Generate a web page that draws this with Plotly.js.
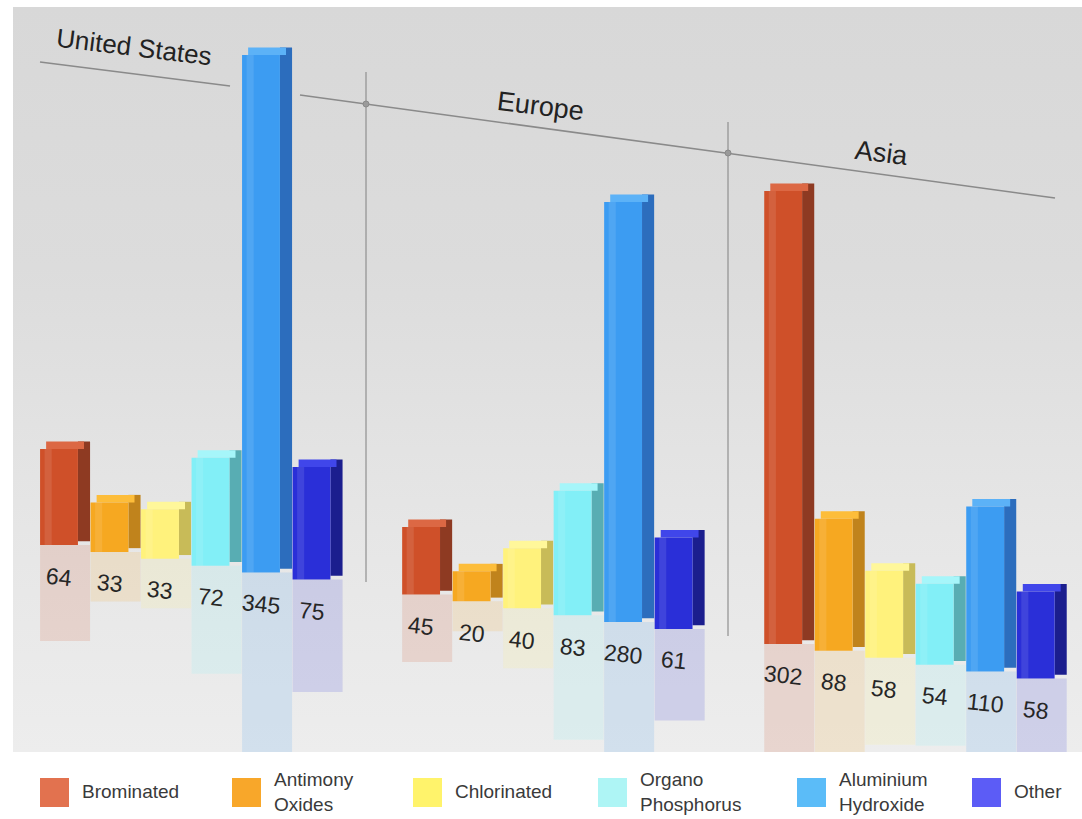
<!DOCTYPE html>
<html>
<head>
<meta charset="utf-8">
<script src="https://cdn.plot.ly/plotly-3.0.1.min.js"></script>
<style>
  html, body { margin: 0; padding: 0; background: #ffffff; }
  #chart {
    width: 1082px; height: 819px;
    background:
      linear-gradient(180deg, #d8d8d8 0%, #dcdcdc 35%, #e6e6e6 70%, #ededed 100%) 13px 7px / 1069px 745px no-repeat,
      #ffffff;
  }
</style>
</head>
<body>
<div id="chart"></div>
<script>
// ---------- data ----------
const regions = ['United States', 'Europe', 'Asia'];
const categories = ['Brominated', 'Antimony Oxides', 'Chlorinated', 'Organo Phosphorus', 'Aluminium Hydroxide', 'Other'];
const legendLabels = ['Brominated', 'Antimony<br>Oxides', 'Chlorinated', 'Organo<br>Phosphorus', 'Aluminium<br>Hydroxide', 'Other'];
const valuesUS = [64, 33, 33, 72, 345, 75];
const valuesEurope = [45, 20, 40, 83, 280, 61];
const valuesAsia = [302, 88, 58, 54, 110, 58];
const seriesByRegion = [valuesUS, valuesEurope, valuesAsia];

// ---------- styles ----------
const frontColors = ['#cf5029', '#f6a821', '#fff27c', '#82eff7', '#3c9cf2', '#2a2fd8'];
const sideColors  = ['#8e3a22', '#c0831c', '#c8bb58', '#58adb3', '#2c6dbd', '#1b1e8e'];
const topColors   = ['#dc6844', '#fdbd3a', '#fff79a', '#a6f6fa', '#5cb2f7', '#4046ea'];
const legendColors = ['#e2724f', '#f8a72a', '#fff36b', '#aef5f5', '#5bbcf8', '#5c5cf6'];

const GROUP_STEP = 7.17;   // spacing of region groups, in bar slots
const SLOPE = 4.6;         // perspective drop of the floor per bar slot
const DEPTH = 5;           // visual depth of the 3D top face
const FRONT_W = 0.75, SIDE_W = 0.24;

const reflTraces = [], sideTraces = [], topTraces = [], frontTraces = [], shineTraces = [];
const annotations = [];

categories.forEach((cat, c) => {
  const xs = regions.map((r, g) => g * GROUP_STEP + c);
  const vals = seriesByRegion.map(v => v[c]);
  const bases = xs.map(x => -SLOPE * x);

  reflTraces.push({
    type: 'bar', name: cat + ' reflection', showlegend: false, hoverinfo: 'skip',
    x: xs.map(x => x + SIDE_W / 2), y: vals.map(v => -v), base: bases,
    width: FRONT_W + SIDE_W, marker: { color: frontColors[c], line: { width: 0 } }, opacity: 0.15
  });
  sideTraces.push({
    type: 'bar', name: cat + ' side', showlegend: false, hoverinfo: 'skip',
    x: xs.map(x => x + FRONT_W / 2 + SIDE_W / 2), y: vals.map(v => v + DEPTH / 2), base: bases.map(b => b + DEPTH / 2),
    width: SIDE_W, marker: { color: sideColors[c], line: { width: 0 } }
  });
  topTraces.push({
    type: 'bar', name: cat + ' top', showlegend: false, hoverinfo: 'skip',
    x: xs.map(x => x + SIDE_W / 2), y: vals.map(() => DEPTH), base: bases.map((b, i) => b + vals[i]),
    width: FRONT_W, marker: { color: topColors[c], line: { width: 0 } }
  });
  frontTraces.push({
    type: 'bar', name: cat, showlegend: false,
    x: xs, y: vals, base: bases,
    width: FRONT_W, marker: { color: frontColors[c], line: { width: 0 } },
    hovertemplate: cat + ': %{y}<extra></extra>'
  });
  shineTraces.push({
    type: 'bar', name: cat + ' shine', showlegend: false, hoverinfo: 'skip',
    x: xs.map(x => x - FRONT_W / 2 + 0.16), y: vals, base: bases,
    width: 0.14, marker: { color: '#ffffff', line: { width: 0 } }, opacity: 0.1
  });

  xs.forEach((x, i) => {
    annotations.push({
      x: x, y: bases[i] - 21, xref: 'x', yref: 'y', text: String(vals[i]),
      xanchor: 'center', yanchor: 'middle',
      showarrow: false, textangle: 6,
      font: { family: 'Liberation Sans, Arial, sans-serif', size: 23, color: '#262626' }
    });
  });
});

// pixel helpers for decorations (plot area: x 13..1082, y 7..752)
const PX = px => (px - 13) / 1069;
const PY = py => (752 - py) / 745;

const lineStyle = { color: '#8a8a8a', width: 1.5 };
const shapes = [
  { type: 'line', xref: 'paper', yref: 'paper', x0: PX(40), y0: PY(62), x1: PX(230), y1: PY(86), line: lineStyle },
  { type: 'line', xref: 'paper', yref: 'paper', x0: PX(300), y0: PY(95), x1: PX(1055), y1: PY(198), line: lineStyle },
  { type: 'line', xref: 'paper', yref: 'paper', x0: PX(366), y0: PY(72), x1: PX(366), y1: PY(582), line: { color: '#8f8f8f', width: 1.2 } },
  { type: 'line', xref: 'paper', yref: 'paper', x0: PX(728), y0: PY(122), x1: PX(728), y1: PY(636), line: { color: '#8f8f8f', width: 1.2 } },
  { type: 'circle', xref: 'paper', yref: 'paper', x0: PX(363), y0: PY(101), x1: PX(369), y1: PY(107), fillcolor: '#9a9a9a', line: { color: '#8a8a8a', width: 1 } },
  { type: 'circle', xref: 'paper', yref: 'paper', x0: PX(725), y0: PY(150), x1: PX(731), y1: PY(156), fillcolor: '#9a9a9a', line: { color: '#8a8a8a', width: 1 } }
];

// region titles
const titleFont = { family: 'Liberation Sans, Arial, sans-serif', color: '#222222' };
const regionTitlePos = [[134, 47, 26], [540, 106, 27], [882, 153, 27]];
regions.forEach((r, g) => {
  const p = regionTitlePos[g];
  annotations.push({
    xref: 'paper', yref: 'paper', x: PX(p[0]), y: PY(p[1]), xanchor: 'center', yanchor: 'middle',
    text: r, showarrow: false, textangle: 7,
    font: Object.assign({ size: p[2] }, titleFont)
  });
});

// legend (bottom)
const legendX = [40, 232, 413, 598, 797, 972];
categories.forEach((cat, c) => {
  shapes.push({
    type: 'rect', xref: 'paper', yref: 'paper',
    x0: PX(legendX[c]), x1: PX(legendX[c] + 29), y0: PY(807), y1: PY(778),
    fillcolor: legendColors[c], line: { width: 0 }
  });
  annotations.push({
    xref: 'paper', yref: 'paper', x: PX(legendX[c] + 40), y: PY(792), xanchor: 'left', yanchor: 'middle',
    text: legendLabels[c], align: 'left', showarrow: false,
    font: { family: 'Liberation Sans, Arial, sans-serif', size: 19, color: '#3a3a3a' }
  });
});

const layout = {
  width: 1082, height: 819,
  margin: { l: 13, r: 0, t: 7, b: 67, pad: 0 },
  paper_bgcolor: 'rgba(0,0,0,0)', plot_bgcolor: 'rgba(0,0,0,0)',
  barmode: 'overlay', showlegend: false,
  xaxis: { range: [(13 - 59) / 50.5, (1082 - 59) / 50.5], visible: false, fixedrange: true },
  yaxis: { range: [(545 - 752) / 1.5, (545 - 7) / 1.5], visible: false, fixedrange: true },
  shapes: shapes,
  annotations: annotations
};

Plotly.newPlot('chart', reflTraces.concat(sideTraces, topTraces, frontTraces, shineTraces), layout, { displayModeBar: false });
</script>
</body>
</html>
